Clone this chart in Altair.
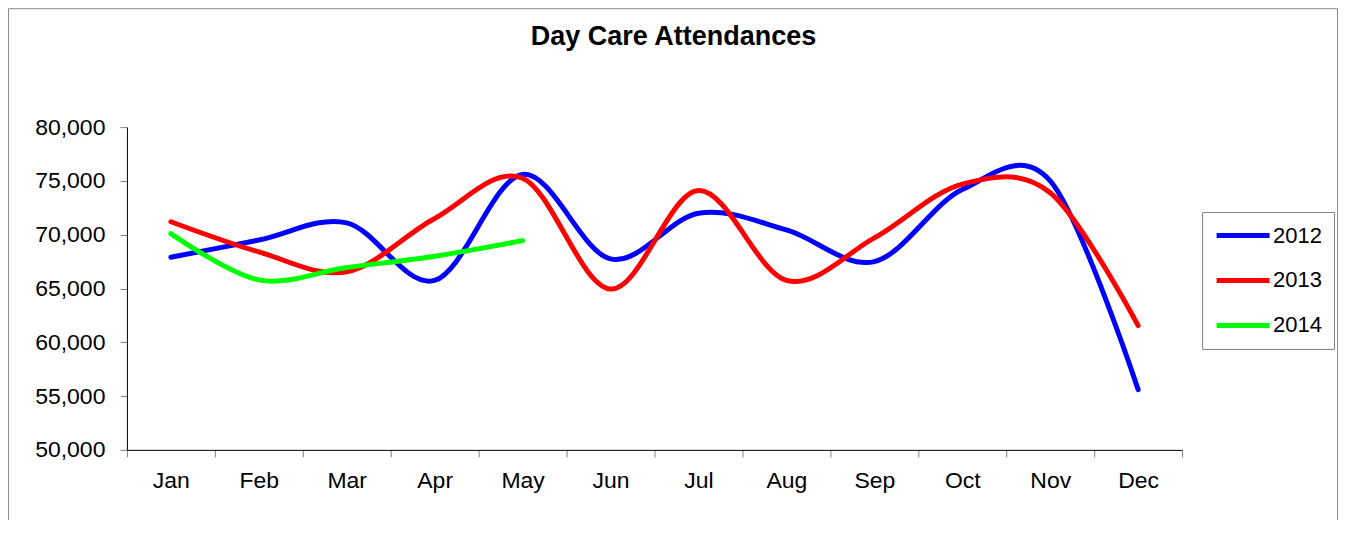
import altair as alt
import pandas as pd

months = ["Jan", "Feb", "Mar", "Apr", "May", "Jun", "Jul", "Aug", "Sep", "Oct", "Nov", "Dec"]
years = ["2012", "2013", "2014"]
v2012 = [67900, 69500, 71100, 65750, 75600, 67750, 72000, 70450, 67500, 74200, 75000, 55600]
v2013 = [71200, 68400, 66550, 71500, 75250, 64950, 74100, 65750, 69700, 74700, 73900, 61550]
v2014 = [70100, 65800, 66950, 68000, 69450]
y_ticks = [50000, 55000, 60000, 65000, 70000, 75000, 80000]
colors = ["#0000FF", "#FF0000", "#00FF00"]

rows = []
for yr, vals in zip(years, [v2012, v2013, v2014]):
    for m, v in zip(months, vals):
        rows.append({"month": m, "year": yr, "value": v})
df = pd.DataFrame(rows)

FONT = "Liberation Sans"

border = alt.Chart(pd.DataFrame({"a": [0]})).mark_rect(
    fillOpacity=0, stroke="#8c8c8c", strokeWidth=1
).encode(
    x=alt.value(-118.5), x2=alt.value(1211.5),
    y=alt.value(-118.5), y2=alt.value(520)
)

lines = alt.Chart(df).mark_line(
    interpolate="cardinal", strokeWidth=5, strokeCap="round", strokeJoin="round"
).encode(
    x=alt.X(
        "month:N", sort=months,
        scale=alt.Scale(type="band", paddingInner=0, paddingOuter=0),
        axis=alt.Axis(
            title=None, labelAngle=0, tickBand="extent", grid=False,
            domainColor="black", domainWidth=1, tickColor="#808080", tickSize=7,
            labelFont=FONT, labelFontSize=23, labelColor="black", labelPadding=13,
        ),
    ),
    y=alt.Y(
        "value:Q",
        scale=alt.Scale(domain=[50000, 80000], nice=False, zero=False),
        axis=alt.Axis(
            title=None, values=y_ticks, format=",.0f", grid=False,
            domainColor="black", domainWidth=1, tickColor="#808080", tickSize=7,
            labelFont=FONT, labelFontSize=23, labelColor="black", labelPadding=15,
        ),
    ),
    color=alt.Color(
        "year:N",
        scale=alt.Scale(domain=years, range=colors),
        legend=alt.Legend(
            title=None, orient="none", legendX=1076, legendY=85,
            strokeColor="#808080", padding=12,
            symbolType="stroke", symbolSize=2809, symbolStrokeWidth=5,
            labelFont=FONT, labelFontSize=22, labelColor="black", labelOffset=1,
            clipHeight=23, rowPadding=22,
        ),
    ),
)

chart = alt.layer(border, lines).properties(
    width=1056,
    height=323,
    autosize="none",
    padding={"left": 119, "top": 119, "right": 156, "bottom": 70},
    title=alt.TitleParams(
        "Day Care Attendances", anchor="middle", frame="group", baseline="alphabetic",
        offset=-64, dx=19, fontSize=27, font=FONT, fontWeight="bold", color="black",
    ),
).configure_view(strokeWidth=0)

chart.save("out.html", embed_options={"renderer": "svg", "actions": False})
